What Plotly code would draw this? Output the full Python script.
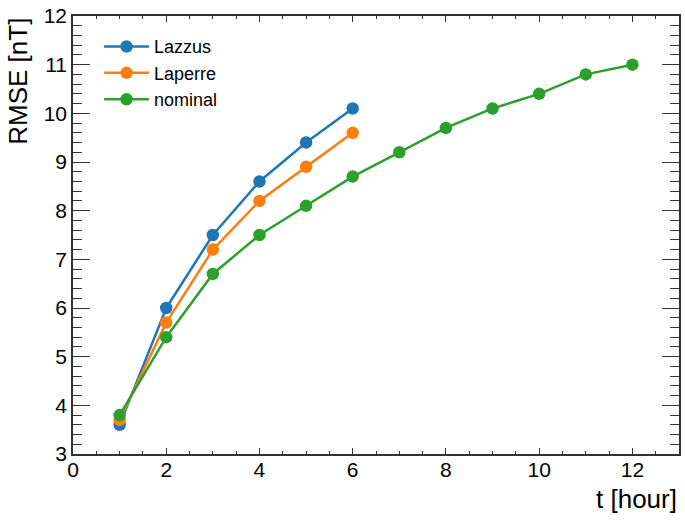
import plotly.graph_objects as go

hours_short = [1, 2, 3, 4, 5, 6]
hours_long = [1, 2, 3, 4, 5, 6, 7, 8, 9, 10, 11, 12]
lazzus = [3.6, 6.0, 7.5, 8.6, 9.4, 10.1]
laperre = [3.7, 5.7, 7.2, 8.2, 8.9, 9.6]
nominal = [3.8, 5.4, 6.7, 7.5, 8.1, 8.7, 9.2, 9.7, 10.1, 10.4, 10.8, 11.0]

FONT = "Liberation Sans, Arial, sans-serif"

fig = go.Figure()
series = [("Lazzus", hours_short, lazzus, "#1f77b4"),
          ("Laperre", hours_short, laperre, "#ff7f0e"),
          ("nominal", hours_long, nominal, "#2ca02c")]
for name, x, y, c in series:
    fig.add_trace(go.Scatter(x=x, y=y, name=name, mode="lines+markers",
                             line=dict(color=c, width=2.5),
                             marker=dict(color=c, size=12.5)))

axis_common = dict(showgrid=False, zeroline=False, showline=True, linecolor="#333333",
                   linewidth=1.5, mirror="allticks", ticks="inside",
                   tickwidth=1.2, tickcolor="#333333", ticklabeloverflow="allow",
                   tickfont=dict(family=FONT, size=21, color="black"))
fig.update_xaxes(range=[0, 13], tickmode="linear", tick0=0, dtick=2, ticklen=6,
                 ticklabelstandoff=-4,
                 minor=dict(ticks="inside", ticklen=3.5, tickwidth=1, tickcolor="#333333", dtick=0.5, tick0=0),
                 **axis_common)
fig.update_yaxes(range=[3, 12], tickmode="linear", tick0=3, dtick=1, ticklen=17,
                 minor=dict(ticks="inside", ticklen=9, tickwidth=1, tickcolor="#333333", dtick=0.2, tick0=3),
                 **axis_common)

fig.add_annotation(text="RMSE [nT]", xref="paper", yref="paper", x=-0.092, y=1.0,
                   xanchor="center", yanchor="top", textangle=-90, showarrow=False,
                   font=dict(family=FONT, size=26, color="black"))
fig.add_annotation(text="t [hour]", xref="paper", yref="paper", x=1.0, y=-0.064,
                   xanchor="right", yanchor="top", showarrow=False,
                   font=dict(family=FONT, size=26, color="black"))

fig.update_layout(width=685, height=523,
                  margin=dict(l=73, r=4, t=10, b=69),
                  plot_bgcolor="white", paper_bgcolor="white",
                  font=dict(family=FONT, color="black"),
                  legend=dict(x=0.043, y=0.972, xanchor="left", yanchor="top",
                              bgcolor="rgba(0,0,0,0)", font=dict(family=FONT, size=18),
                              itemwidth=45))

fig.write_html("out.html", config={"displayModeBar": False},
               post_script="document.body.style.margin='0';")
